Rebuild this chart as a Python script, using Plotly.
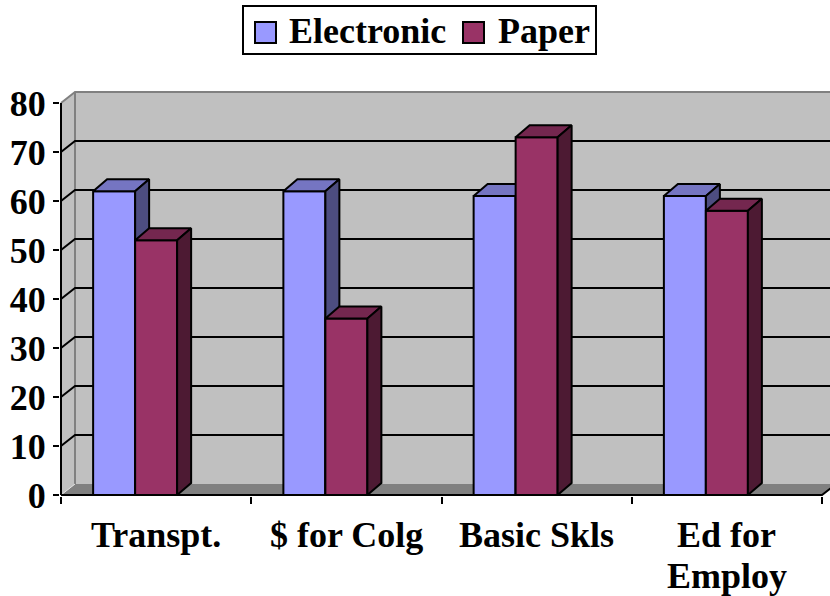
import textwrap
import plotly.graph_objects as go

# ---- data -------------------------------------------------------------
categories = ["Transpt.", "$ for Colg", "Basic Skls", "Ed for Employ"]
series_names = ["Electronic", "Paper"]
electronic = [62, 62, 61, 61]
paper = [52, 36, 73, 58]
y_ticks = [0, 10, 20, 30, 40, 50, 60, 70, 80]

# ---- styling ------------------------------------------------------------
FONT = "Liberation Serif, Times New Roman, serif"
front_cols = ["#9999FF", "#993366"]
top_cols = ["#7575C2", "#74274F"]
side_cols = ["#4D4D80", "#4D1A33"]
WALL = "#C0C0C0"
FLOOR = "#808080"
EDGE = "#808080"

W, H = 830, 596
PX_PER_X = 190.25          # pixels per category
PX_PER_Y = 4.9             # pixels per value unit
AX_LEFT_PX, ZERO_PX = 61, 495
PLOT_L, PLOT_R, PLOT_T, PLOT_B = 60, 830, 86, 496

def xd(px):
    return -0.5 + (px - AX_LEFT_PX) / PX_PER_X

def yd(py):
    return (ZERO_PX - py) / PX_PER_Y

# 3-D depth of walls and columns (in data units)
WALL_DX, WALL_DY = 14 / PX_PER_X, 11 / PX_PER_Y
BAR_DX, BAR_DY = 14 / PX_PER_X, 12 / PX_PER_Y
BAR_W = 42 / PX_PER_X
GROUP_OFFSET = -63 / PX_PER_X

X0 = -0.5
X_END = len(categories) - 0.5
Y_TOP = y_ticks[-1]

fig = go.Figure()

def poly(xs, ys, fill=None, line="black", lw=2):
    xs = list(xs) + [xs[0]]
    ys = list(ys) + [ys[0]]
    fig.add_trace(go.Scatter(
        x=xs, y=ys, mode="lines",
        fill="toself" if fill else None,
        fillcolor=fill,
        line=dict(color=line, width=lw) if lw else dict(width=0),
        hoverinfo="skip", showlegend=False))

def seg(xs, ys, color="black", lw=2):
    fig.add_trace(go.Scatter(
        x=xs, y=ys, mode="lines",
        line=dict(color=color, width=lw),
        hoverinfo="skip", showlegend=False))

# walls and floor
far_right = X_END + 1
poly([X0 + WALL_DX, far_right, far_right, X0 + WALL_DX],
     [WALL_DY, WALL_DY, Y_TOP + WALL_DY, Y_TOP + WALL_DY], fill=WALL, lw=0)
poly([X0, X0 + WALL_DX, X0 + WALL_DX, X0],
     [0, WALL_DY, Y_TOP + WALL_DY, Y_TOP], fill=WALL, lw=0)
poly([X0, X_END, X_END + WALL_DX, X0 + WALL_DX],
     [0, 0, WALL_DY, WALL_DY], fill=FLOOR, lw=0)

# wall edges
seg([X0, X0 + WALL_DX, far_right], [Y_TOP, Y_TOP + WALL_DY, Y_TOP + WALL_DY], EDGE, 2)
seg([X0 + WALL_DX, X0 + WALL_DX], [WALL_DY, Y_TOP + WALL_DY], EDGE, 2)
seg([X0, X0 + WALL_DX], [0, WALL_DY], "#E0E0E0", 1)

# gridlines on the walls
for v in y_ticks[1:-1]:
    seg([X0, X0 + WALL_DX, far_right], [v, v + WALL_DY, v + WALL_DY], "black", 2)

# front axis lines
seg([X0, X0], [0, Y_TOP], "black", 2)
seg([X0, X_END, X_END + WALL_DX], [0, 0, WALL_DY], "black", 2)

# 3-D columns
for i in range(len(categories)):
    for s, vals in enumerate([electronic, paper]):
        v = vals[i]
        a = i + GROUP_OFFSET + s * BAR_W
        b = a + BAR_W
        poly([a, b, b, a], [0, 0, v, v], fill=front_cols[s])
        poly([a, b, b + BAR_DX, a + BAR_DX], [v, v, v + BAR_DY, v + BAR_DY], fill=top_cols[s])
        poly([b, b + BAR_DX, b + BAR_DX, b], [0, BAR_DY, v + BAR_DY, v], fill=side_cols[s])

# category labels (wrapped)
annotations = []
for i, cat in enumerate(categories):
    for j, line in enumerate(textwrap.wrap(cat, width=10)):
        annotations.append(dict(
            x=i, xref="x", y=(PLOT_B - (535 + 41 * j)) / (PLOT_B - PLOT_T), yref="paper",
            text=line, showarrow=False, xanchor="center", yanchor="middle",
            font=dict(family=FONT, size=36, color="black", weight="bold")))

# legend box
def xp(px):
    return (px - PLOT_L) / (PLOT_R - PLOT_L)

def yp(py):
    return (PLOT_B - py) / (PLOT_B - PLOT_T)

shapes = [dict(type="rect", xref="paper", yref="paper",
               x0=xp(243), x1=xp(596), y0=yp(54), y1=yp(6),
               line=dict(color="black", width=2), fillcolor="white")]
swatch_x = [255, 463]
text_x = [287, 496]
for s, name in enumerate(series_names):
    shapes.append(dict(type="rect", xref="paper", yref="paper",
                       x0=xp(swatch_x[s]), x1=xp(swatch_x[s] + 21),
                       y0=yp(43), y1=yp(22),
                       line=dict(color="black", width=2), fillcolor=front_cols[s]))
    annotations.append(dict(
        x=xp(text_x[s]), xref="paper", y=yp(31), yref="paper",
        text=name, showarrow=False, xanchor="left", yanchor="middle",
        font=dict(family=FONT, size=36, color="black", weight="bold")))

fig.update_layout(
    width=W, height=H,
    margin=dict(l=PLOT_L, r=W - PLOT_R, t=PLOT_T, b=H - PLOT_B, pad=0),
    paper_bgcolor="white", plot_bgcolor="white",
    showlegend=False,
    shapes=shapes, annotations=annotations,
    xaxis=dict(range=[xd(PLOT_L), xd(PLOT_R)],
               tickvals=[X0 + k for k in range(len(categories) + 1)],
               ticktext=[""] * (len(categories) + 1),
               ticks="outside", ticklen=7, tickwidth=2, tickcolor="black",
               showgrid=False, zeroline=False, showline=False, fixedrange=True),
    yaxis=dict(range=[yd(PLOT_B), yd(PLOT_T)],
               tickvals=y_ticks, ticktext=[str(t) for t in y_ticks],
               ticks="outside", ticklen=6, tickwidth=2, tickcolor="black",
               tickfont=dict(family=FONT, size=36, color="black", weight="bold"),
               showgrid=False, zeroline=False, showline=False, fixedrange=True),
)

fig.write_html("out.html")
